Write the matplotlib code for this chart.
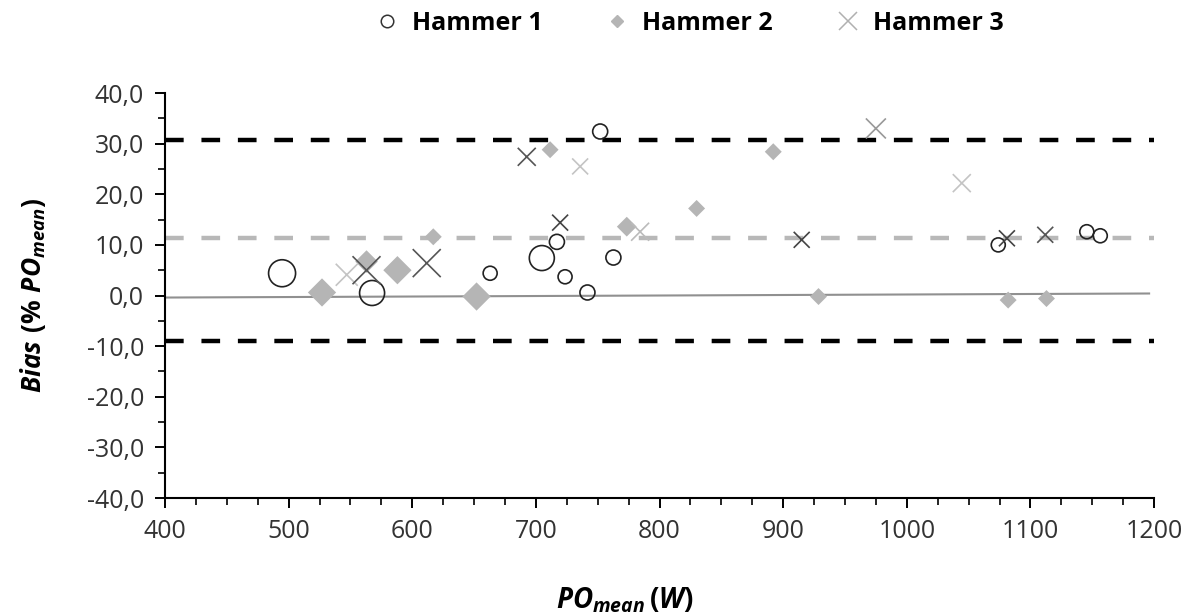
import numpy as np
import matplotlib
matplotlib.use('Agg')
import matplotlib.pyplot as plt
from matplotlib.lines import Line2D
from matplotlib.ticker import MultipleLocator, FuncFormatter

plt.rcParams['font.family'] = ['Open Sans', 'DejaVu Sans']
plt.rcParams['mathtext.fontset'] = 'custom'
plt.rcParams['mathtext.it'] = 'Open Sans:italic:bold'
plt.rcParams['mathtext.rm'] = 'Open Sans:bold'

# Hammer 1 (open circles)
h1_x = [494.7, 567.5, 663, 704.8, 717, 723.6, 741.7, 752, 762.7, 1074, 1145.6, 1156.5]
h1_y = [4.4, 0.5, 4.4, 7.4, 10.6, 3.7, 0.6, 32.4, 7.5, 10.0, 12.6, 11.8]
h1_d = [27, 25, 14, 25, 15, 14, 15, 15, 15, 14, 14, 14]

# Hammer 2 (grey diamonds)
h2_x = [527, 563, 588, 617, 652, 711.5, 773.5, 830, 892, 928.6, 1082, 1113]
h2_y = [0.6, 6.7, 5.0, 11.6, -0.2, 28.8, 13.6, 17.2, 28.4, -0.2, -0.9, -0.6]
h2_d = [20, 16, 20, 12, 20, 12, 14, 12, 12, 12, 12, 12]

# Hammer 3 (crosses)
h3_x = [547, 563, 611.7, 692.6, 719.6, 735.8, 784.3, 915, 975, 1044.5, 1081, 1112]
h3_y = [4.1, 5.0, 6.4, 27.4, 14.4, 25.5, 12.6, 11.0, 33.0, 22.2, 11.3, 12.0]
h3_d = [22, 28, 28, 18, 16, 16, 18, 16, 20, 18, 16, 16]
h3_colors = ['#c4c4c4', '#555555', '#555555', '#555555', '#444444', '#c4c4c4',
             '#bbbbbb', '#444444', '#999999', '#c4c4c4', '#444444', '#555555']

# Bland-Altman lines
mean_bias = 11.3
upper_loa = 30.7
lower_loa = -8.9
regression_x = [400, 1196]
regression_y = [-0.4, 0.4]


def area(d):
    return (np.array(d) * 0.72) ** 2


fig = plt.figure(figsize=(12, 6.14), dpi=100)
ax = fig.add_axes([0.1375, 0.1889, 0.8242, 0.6596])

ax.axhline(upper_loa, color='black', linewidth=3.2, dashes=(4.2, 4), zorder=1)
ax.axhline(lower_loa, color='black', linewidth=3.2, dashes=(4.2, 4), zorder=1)
ax.axhline(mean_bias, color='#b8b8b8', linewidth=3.2, dashes=(4.2, 4), zorder=1)
ax.plot(regression_x, regression_y, color='#909090', linewidth=1.5, zorder=2)

ax.scatter(h2_x, h2_y, s=area(h2_d), marker='D', color='#b5b5b5', linewidths=0, zorder=3)
ax.scatter(h1_x, h1_y, s=area(h1_d), marker='o', facecolors='none',
           edgecolors='#222222', linewidths=1.2, zorder=4)
ax.scatter(h3_x, h3_y, s=area(h3_d), marker='x', c=h3_colors, linewidths=1.2, zorder=5)

ax.set_xlim(400, 1200)
ax.set_ylim(-40, 40)
ax.xaxis.set_major_locator(MultipleLocator(100))
ax.xaxis.set_minor_locator(MultipleLocator(25))
ax.yaxis.set_major_locator(MultipleLocator(10))
ax.yaxis.set_minor_locator(MultipleLocator(5))
ax.yaxis.set_major_formatter(FuncFormatter(lambda v, p: f'{v:.1f}'.replace('.', ',')))

for side in ['top', 'right']:
    ax.spines[side].set_visible(False)
for side in ['left', 'bottom']:
    ax.spines[side].set_linewidth(1.5)
    ax.spines[side].set_color('black')

ax.tick_params(which='major', length=7, width=1.4, labelsize=18, colors='black', pad=8)
ax.tick_params(which='minor', length=5, width=1.2)
for lab in ax.get_xticklabels() + ax.get_yticklabels():
    lab.set_color('#333333')

ax.set_ylabel(r'$Bias\ (\%\ PO_{mean})$', fontsize=19, labelpad=28)
ax.set_xlabel(r'$PO_{mean}\,(W)$', fontsize=20, labelpad=28)
ax.xaxis.set_label_coords(0.465, -0.215)

handles = [
    Line2D([], [], marker='o', linestyle='none', markerfacecolor='none',
           markeredgecolor='#333333', markersize=9, markeredgewidth=1.1),
    Line2D([], [], marker='D', linestyle='none', color='#b5b5b5', markersize=6),
    Line2D([], [], marker='x', linestyle='none', color='#b0b0b0', markersize=13,
           markeredgewidth=1.1),
]
fig.legend(handles, ['Hammer 1', 'Hammer 2', 'Hammer 3'], loc='center',
           bbox_to_anchor=(0.573, 0.962), ncol=3, frameon=False,
           prop={'weight': 'bold', 'size': 18}, handletextpad=0.4,
           columnspacing=2.4, handlelength=1.2)

fig.savefig('out.png', dpi=100)
